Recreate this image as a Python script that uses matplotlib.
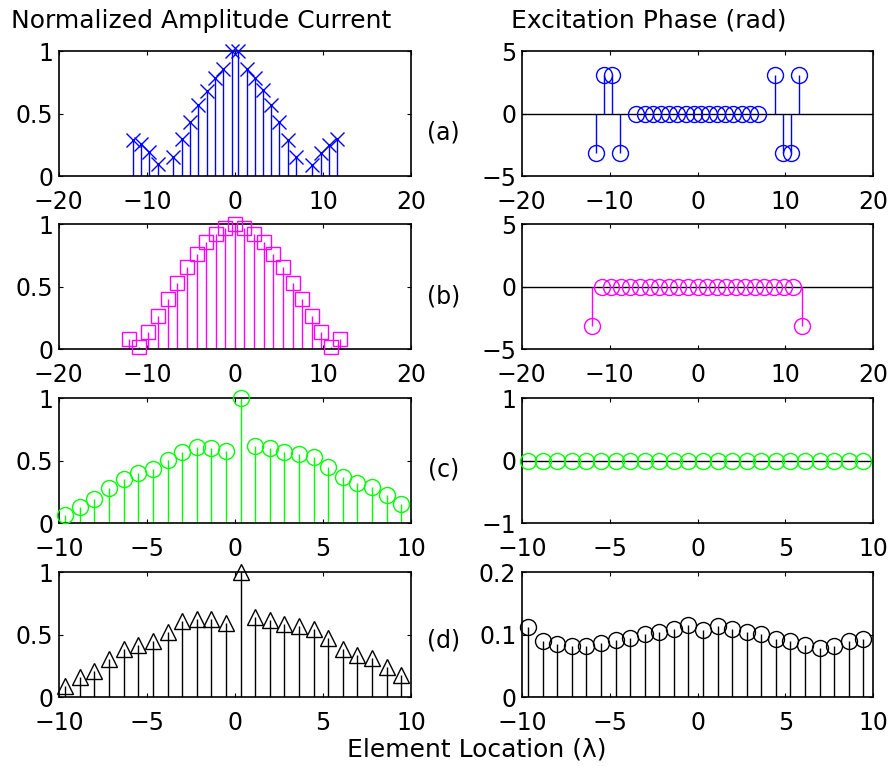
import numpy as np
import matplotlib
matplotlib.use('Agg')
import matplotlib.pyplot as plt

pi = np.pi

# Row (a)
x_a = [-11.6, -10.65, -9.72, -8.79, -7.01, -6.02, -5.11, -4.17, -3.22, -2.31, -1.36, -0.38,
       0.38, 1.33, 2.23, 3.18, 4.09, 5.04, 5.99, 6.93, 8.78, 9.72, 10.63, 11.6]
amp_a = [0.29, 0.255, 0.19, 0.097, 0.15, 0.295, 0.434, 0.571, 0.686, 0.783, 0.858, 1.0,
         1.0, 0.858, 0.786, 0.692, 0.574, 0.437, 0.29, 0.15, 0.089, 0.182, 0.249, 0.295]
phase_a = [-pi, pi, pi, -pi] + [0.0] * 16 + [pi, -pi, -pi, pi]

# Row (b)
x_b = [-12.05, -10.91, -9.85, -8.75, -7.65, -6.55, -5.45, -4.35, -3.30, -2.19, -1.10, 0.0,
       1.06, 2.16, 3.26, 4.35, 5.45, 6.57, 7.61, 8.72, 9.81, 10.91, 11.93]
amp_b = [0.082, 0.021, 0.141, 0.269, 0.405, 0.533, 0.656, 0.762, 0.856, 0.922, 0.968, 1.0,
         0.968, 0.922, 0.856, 0.762, 0.656, 0.533, 0.405, 0.269, 0.141, 0.021, 0.082]
phase_b = [-pi] + [0.0] * 21 + [-pi]

# Rows (c) and (d) share element positions
x_cd = [-9.64, -8.80, -7.99, -7.16, -6.32, -5.50, -4.65, -3.82, -2.99, -2.17, -1.35, -0.52,
        0.31, 1.15, 1.96, 2.80, 3.63, 4.47, 5.28, 6.11, 6.95, 7.77, 8.60, 9.44]
amp_c = [0.067, 0.128, 0.195, 0.284, 0.356, 0.40, 0.434, 0.507, 0.574, 0.608, 0.606, 0.576,
         1.0, 0.617, 0.603, 0.568, 0.557, 0.528, 0.45, 0.37, 0.324, 0.29, 0.222, 0.155]
phase_c = [0.0] * 24
amp_d = [0.087, 0.157, 0.208, 0.305, 0.386, 0.419, 0.451, 0.519, 0.608, 0.627, 0.627, 0.595,
         1.0, 0.64, 0.621, 0.587, 0.573, 0.549, 0.476, 0.384, 0.34, 0.311, 0.238, 0.176]
phase_d = [0.112, 0.090, 0.085, 0.082, 0.082, 0.0865, 0.091, 0.095, 0.1016, 0.105, 0.109, 0.116,
           0.108, 0.1146, 0.109, 0.105, 0.101, 0.0935, 0.089, 0.084, 0.078, 0.082, 0.090, 0.093]

row_labels = ['(a)', '(b)', '(c)', '(d)']

plt.rcParams['font.family'] = ['DejaVu Sans']
fs = 17


def stem(ax, x, y, color, marker, ms):
    ax.vlines(x, 0, y, colors=color, lw=1.0, zorder=2)
    ax.plot(x, y, ls='none', marker=marker, ms=ms, mfc='none', mec=color, mew=1.0,
            zorder=3, clip_on=False)


def style(ax, xlim, xticks, ylim, yticks, yfmt):
    ax.set_xlim(xlim)
    ax.set_ylim(ylim)
    ax.set_xticks(xticks)
    ax.set_yticks(yticks)
    ax.set_yticklabels([yfmt(v) for v in yticks])
    ax.tick_params(direction='in', top=True, right=True, length=3, width=0.8,
                   labelsize=fs)
    ax.tick_params(axis='x', pad=10)
    ax.tick_params(axis='y', pad=4)
    for s in ax.spines.values():
        s.set_linewidth(1.2)


def fmt_plain(v):
    if v == int(v):
        return f'{int(v)}'.replace('-', '\u2212')
    return f'{v:g}'


fig = plt.figure(figsize=(8.92, 7.66), dpi=100)

bottoms = [0.770, 0.544, 0.317, 0.090]
label_pos = [0.35, 0.42, 0.43, 0.45]
h = 0.163
left_l, w_l = 0.066, 0.395
left_r, w_r = 0.585, 0.394

rows = [
    (x_a, amp_a, phase_a, '#0000ff', 'x', 10, [-20, 20], [-20, -10, 0, 10, 20], [-5, 5], [-5, 0, 5]),
    (x_b, amp_b, phase_b, '#ff00ff', 's', 10, [-20, 20], [-20, -10, 0, 10, 20], [-5, 5], [-5, 0, 5]),
    (x_cd, amp_c, phase_c, '#00ff00', 'o', 11.5, [-10, 10], [-10, -5, 0, 5, 10], [-1, 1], [-1, 0, 1]),
    (x_cd, amp_d, phase_d, 'k', '^', 11, [-10, 10], [-10, -5, 0, 5, 10], [0, 0.2], [0, 0.1, 0.2]),
]

for i, (x, amp, ph, c, mk, ms, xl, xt, pyl, pyt) in enumerate(rows):
    ax1 = fig.add_axes([left_l, bottoms[i], w_l, h])
    stem(ax1, x, amp, c, mk, ms)
    style(ax1, xl, xt, [0, 1], [0, 0.5, 1], fmt_plain)

    ax2 = fig.add_axes([left_r, bottoms[i], w_r, h])
    ax2.axhline(0, color='k', lw=1.0, zorder=1)
    stem(ax2, x, ph, c, 'o', 11.5)
    style(ax2, xl, xt, pyl, pyt, fmt_plain)

    fig.text(0.497, bottoms[i] + h * label_pos[i], row_labels[i], ha='center', va='center',
             fontsize=fs)

# column headings and shared x label
fig.text(0.226, 0.973, 'Normalized Amplitude Current', ha='center', va='center', fontsize=18)
fig.text(0.727, 0.973, 'Excitation Phase (rad)', ha='center', va='center', fontsize=18)
fig.text(0.535, 0.022, 'Element Location (\u03bb)', ha='center', va='center', fontsize=18)

fig.savefig('out.png', dpi=100)
